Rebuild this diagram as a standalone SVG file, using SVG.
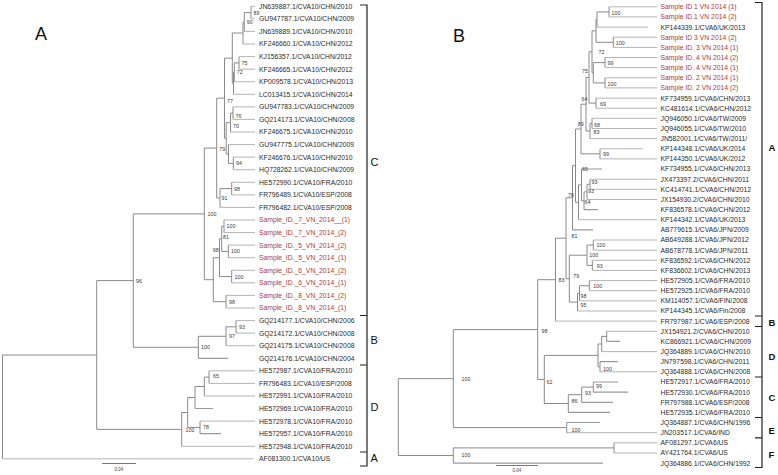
<svg xmlns="http://www.w3.org/2000/svg" width="778" height="475" viewBox="0 0 778 475">
<style>
.bg{fill:#fff}
.br{fill:none;stroke:#8a8a8a;stroke-width:1}
.lf{fill:none;stroke:#b4b4b4;stroke-width:1}
.ld{fill:none;stroke:#999;stroke-width:1.2}
.bk{fill:none;stroke:#222;stroke-width:1.2}
.sb{fill:none;stroke:#555;stroke-width:0.8}
text{font-family:"Liberation Sans",Arial,sans-serif}
.t{font-size:6.8px;fill:#2a2a2a}
.r{font-size:6.8px;fill:#b0393a}
.bs{font-size:5.3px;fill:#3a3a3a}
.cl{font-size:11px;fill:#111}
.cb{font-size:9.5px;font-weight:bold;fill:#111}
.pt{font-size:18px;fill:#111}
.sc{font-size:4.5px;fill:#444}
</style>
<rect class="bg" x="0" y="0" width="778" height="475"/>
<text class="pt" x="35" y="40">A</text>
<text class="pt" x="453" y="42">B</text>

<g id="connectors">
<path class="br" d="M2.5 355V458.8M2.5 355H96.7M96.7 280.6V429.4M96.7 280.6H133.3M96.7 429.4H181.7M133.3 213.9V347.3M133.3 213.9H204.3M133.3 347.3H198.3M204.3 148.1V279.7M204.3 148.1H216.7M204.3 279.7H213.3M216.7 98.2V198M216.7 98.2H224.5M216.7 198H220M224.5 58.2V138.3M224.5 58.2H232.3M224.5 138.3H226.2M232.3 33V83.3M232.3 33H243M232.3 83.3H233.5M243 22V44M243 22H244.3M244.3 12.6V31.4M244.3 12.6H251M251 6.3V18.9M233.5 72.3V94.3M233.5 72.3H234.3M234.3 62.9V81.7M234.3 62.9H239M239 56.6V69.2M226.2 122.6V154M226.2 122.6H230.5M226.2 154H228.5M230.5 113.2V132M230.5 113.2H233M233 106.9V119.4M228.5 144.6V163.4M228.5 163.4H233.3M233.3 157.1V169.7M220 188.6V207.4M220 188.6H231.7M231.7 182.3V194.9M213.3 257.7V301.7M213.3 257.7H219.5M213.3 301.7H226M219.5 238.8V276.6M219.5 238.8H221.7M219.5 276.6H231.7M221.7 226.3V251.4M221.7 226.3H224M221.7 251.4H228.3M224 220V232.6M228.3 245.1V257.7M231.7 270.3V282.8M226 295.4V308M198.3 336.3V358.3M198.3 336.3H226M226 326.8V345.7M226 326.8H236M236 320.6V333.1M181.7 412.5V446.3M181.7 412.5H187.7M187.7 397.5V427.4M187.7 397.5H195M187.7 427.4H200M195 386.5V408.5M195 386.5H204.3M204.3 377.1V396M204.3 377.1H209M209 370.8V383.4M200 421.1V433.7"/>
<path class="lf" d="M251 6.3H255M251 18.9H255M244.3 31.4H255M243 44H255M239 56.6H255M239 69.2H255M234.3 81.7H255M233.5 94.3H255M233 106.9H255M233 119.4H255M230.5 132H255M228.5 144.6H255M233.3 157.1H255M233.3 169.7H255M231.7 182.3H255M231.7 194.9H255M220 207.4H255M224 220H255M224 232.6H255M228.3 245.1H255M228.3 257.7H255M231.7 270.3H255M231.7 282.8H255M226 295.4H255M226 308H255M236 320.6H255M236 333.1H255M226 345.7H255M209 370.8H255M209 383.4H255M204.3 396H255M200 421.1H255M181.7 446.3H255M2.5 458.8H253"/>
<path class="ld" d="M198.3 358.3H228M195 408.5H213M200 433.7H221"/>
<path class="br" d="M398.3 378.6V455.5M398.3 378.6H453.3M398.3 455.5H453.3M453.3 329.6V427.6M453.3 329.6H537.7M453.3 427.6H566.7M453.3 447.9V463.1M453.3 447.9H614M614 442.8V453M566.7 422.5V432.7M537.7 279.7V379.5M537.7 279.7H555.5M537.7 379.5H544.3M544.3 355.4V403.5M544.3 355.4H598M544.3 403.5H568.3M598 344V366.8M598 344H601.7M598 366.8H600M601.7 336.4V351.6M601.7 336.4H606.7M606.7 331.3V341.4M600 361.7V371.8M568.3 394.7V412.4M568.3 394.7H581.7M581.7 387.1V402.3M581.7 387.1H593.3M593.3 382V392.1M555.5 238.2V321.1M555.5 238.2H566M566 197.8V278.7M566 197.8H572.5M566 278.7H569.3M569.3 255.2V302.1M569.3 255.2H587M569.3 302.1H577.5M587 245.1V265.4M587 245.1H593.3M587 265.4H592.3M593.3 240V250.2M592.3 260.3V270.4M577.5 293.3V311M577.5 293.3H579.5M579.5 285.7V300.9M579.5 285.7H589.3M589.3 280.6V290.7M572.5 165.7V229.9M572.5 165.7H575.5M575.5 129V202.3M575.5 129H581M575.5 202.3H578.5M578.5 184.9V219.7M578.5 184.9H581.5M581.5 169V200.7M581.5 200.7H584M584 191.9V209.6M584 191.9H587M587 184.3V199.5M587 184.3H590M590 179.2V189.3M581 104.2V153.8M581 104.2H586M581 153.8H600M600 148.8V158.9M586 77.5V131M586 77.5H589M586 131H590M590 123.4V138.6M590 123.4H592M592 118.3V128.5M589 51.8V103.1M589 51.8H592M589 103.1H596M596 98.1V108.2M592 30.9V72.7M592 30.9H596M592 72.7H593.3M593.3 62.6V82.9M593.3 62.6H605M593.3 82.9H605M605 57.5V67.6M605 77.8V87.9M596 19.5V42.3M596 19.5H597M596 42.3H613.3M597 11.9V27.1M597 11.9H609M609 6.8V16.9M613.3 37.2V47.4"/>
<path class="lf" d="M609 6.8H657M609 16.9H657M597 27.1H648M613.3 37.2H657M613.3 47.4H657M605 57.5H657M605 67.6H657M605 77.8H657M605 87.9H657M596 98.1H657M596 108.2H657M592 118.3H657M592 128.5H657M590 138.6H657M600 148.8H643M600 158.9H657M590 179.2H657M590 189.3H657M587 199.5H657M578.5 219.7H657M593.3 240H657M593.3 250.2H657M592.3 260.3H657M592.3 270.4H657M589.3 280.6H657M589.3 290.7H657M579.5 300.9H657M577.5 311H657M555.5 321.1H657M606.7 331.3H657M601.7 351.6H657M600 371.8H657M566.7 432.7H657M614 442.8H657M614 453H657"/>
<path class="ld" d="M581.5 169H602M584 209.6H598M572.5 229.9H593M606.7 341.4H620M600 361.7H618M593.3 382H618M593.3 392.1H628M581.7 402.3H613M568.3 412.4H610M566.7 422.5H600M453.3 463.1H603"/>
</g>

<g id="clade-brackets">
<path class="bk" d="M360 5H367V466H360M360 315.5H367M360 365H367M360 452H367"/>
<text class="cl" x="370.5" y="165.6">C</text>
<text class="cl" x="370.5" y="343.9">B</text>
<text class="cl" x="370.5" y="410.6">D</text>
<text class="cl" x="370.5" y="461.9">A</text>
<path class="bk" d="M755 2.5H762V467.5H755M755 316H762M755 326.5H762M755 377H762M755 417.5H762M755 437.8H762"/>
<text class="cb" x="768.5" y="151">A</text>
<text class="cb" x="768.5" y="326">B</text>
<text class="cb" x="768.5" y="360.4">D</text>
<text class="cb" x="768.5" y="401">C</text>
<text class="cb" x="768.5" y="434.4">E</text>
<text class="cb" x="768.5" y="457.7">F</text>
</g>

<g id="support-values">
<text class="bs" x="253.5" y="14.5">89</text>
<text class="bs" x="246.8" y="23.9">90</text>
<text class="bs" x="241.5" y="64.8">75</text>
<text class="bs" x="236.8" y="74.2">72</text>
<text class="bs" x="227" y="102.9">77</text>
<text class="bs" x="235.5" y="117.9">76</text>
<text class="bs" x="233" y="127.9">70</text>
<text class="bs" x="219.2" y="150.9">79</text>
<text class="bs" x="236" y="165.3">94</text>
<text class="bs" x="234" y="190.5">98</text>
<text class="bs" x="221.5" y="200.4">91</text>
<text class="bs" x="207.5" y="215.9">100</text>
<text class="bs" x="226.5" y="227.9">100</text>
<text class="bs" x="223" y="239.4">81</text>
<text class="bs" x="212.7" y="251.9">98</text>
<text class="bs" x="231" y="252.9">100</text>
<text class="bs" x="234.5" y="278.9">100</text>
<text class="bs" x="229" y="303.9">98</text>
<text class="bs" x="136" y="282.5">96</text>
<text class="bs" x="239" y="328.7">93</text>
<text class="bs" x="229" y="338.2">97</text>
<text class="bs" x="201" y="349.2">100</text>
<text class="bs" x="213" y="377.9">65</text>
<text class="bs" x="203" y="429.3">78</text>
<text class="bs" x="185.5" y="431.9">100</text>

<text class="bs" x="611.5" y="14.9">100</text>
<text class="bs" x="615.8" y="45.4">100</text>
<text class="bs" x="598.5" y="53.9">72</text>
<text class="bs" x="607.5" y="64.9">99</text>
<text class="bs" x="582" y="72.9">75</text>
<text class="bs" x="607.5" y="85.9">100</text>
<text class="bs" x="581.5" y="101.4">64</text>
<text class="bs" x="600" y="105.9">69</text>
<text class="bs" x="577.7" y="126.2">89</text>
<text class="bs" x="594" y="126.9">68</text>
<text class="bs" x="593.5" y="133.9">83</text>
<text class="bs" x="603" y="156.2">99</text>
<text class="bs" x="582" y="171.4">65</text>
<text class="bs" x="591.5" y="184.4">93</text>
<text class="bs" x="588" y="192.9">93</text>
<text class="bs" x="568" y="196.9">76</text>
<text class="bs" x="584.5" y="204.2">64</text>
<text class="bs" x="571.5" y="237.9">81</text>
<text class="bs" x="596.5" y="246.9">100</text>
<text class="bs" x="589.3" y="257.4">100</text>
<text class="bs" x="596.7" y="267.9">93</text>
<text class="bs" x="573.3" y="277.9">79</text>
<text class="bs" x="558.5" y="281.9">83</text>
<text class="bs" x="593.3" y="287.9">100</text>
<text class="bs" x="580.5" y="297.9">98</text>
<text class="bs" x="580.5" y="307.4">95</text>
<text class="bs" x="541.5" y="333.4">98</text>
<text class="bs" x="603" y="370.9">100</text>
<text class="bs" x="546.5" y="384.4">62</text>
<text class="bs" x="596" y="387.9">99</text>
<text class="bs" x="585" y="394.9">93</text>
<text class="bs" x="571.5" y="402.9">86</text>
<text class="bs" x="571.5" y="431.9">100</text>
<text class="bs" x="461.5" y="380.9">100</text>
<text class="bs" x="461.5" y="456.9">100</text>
</g>

<g id="scale-bars">
<path class="sb" d="M102 463.5H136"/>
<text class="sc" x="119" y="470.5" text-anchor="middle">0.04</text>
<path class="sb" d="M496 465.5H538"/>
<text class="sc" x="517" y="472" text-anchor="middle">0.04</text>
</g>

<g id="a01"><text class="t" x="259" y="8.75">JN639887.1/CVA10/CHN/2010</text></g>
<g id="a02"><text class="t" x="259" y="21.32">GU947787.1/CVA10/CHN/2009</text></g>
<g id="a03"><text class="t" x="259" y="33.89">JN639889.1/CVA10/CHN/2010</text></g>
<g id="a04"><text class="t" x="259" y="46.46">KF246660.1/CVA10/CHN/2012</text></g>
<g id="a05"><text class="t" x="259" y="59.03">KJ156357.1/CVA10/CHN/2012</text></g>
<g id="a06"><text class="t" x="259" y="71.6">KF246665.1/CVA10/CHN/2012</text></g>
<g id="a07"><text class="t" x="259" y="84.17">KP009578.1/CVA10/CHN/2013</text></g>
<g id="a08"><text class="t" x="259" y="96.74">LC013415.1/CVA10/CHN/2014</text></g>
<g id="a09"><text class="t" x="259" y="109.31">GU947783.1/CVA10/CHN/2009</text></g>
<g id="a10"><text class="t" x="259" y="121.88">GQ214173.1/CVA10/CHN/2008</text></g>
<g id="a11"><text class="t" x="259" y="134.45">KF246675.1/CVA10/CHN/2010</text></g>
<g id="a12"><text class="t" x="259" y="147.02">GU947775.1/CVA10/CHN/2009</text></g>
<g id="a13"><text class="t" x="259" y="159.59">KF246676.1/CVA10/CHN/2010</text></g>
<g id="a14"><text class="t" x="259" y="172.16">HQ728262.1/CVA10/CHN/2009</text></g>
<g id="a15"><text class="t" x="259" y="184.73">HE572990.1/CVA10/FRA/2010</text></g>
<g id="a16"><text class="t" x="259" y="197.3">FR796489.1/CVA10/ESP/2008</text></g>
<g id="a17"><text class="t" x="259" y="209.87">FR796482.1/CVA10/ESP/2008</text></g>
<g id="a18"><text class="r" x="259" y="222.44">Sample_ID._7_VN_2014__(1)</text></g>
<g id="a19"><text class="r" x="259" y="235.01">Sample_ID._7_VN_2014_(2)</text></g>
<g id="a20"><text class="r" x="259" y="247.58">Sample_ID._5_VN_2014_(2)</text></g>
<g id="a21"><text class="r" x="259" y="260.15">Sample_ID._5_VN_2014_(1)</text></g>
<g id="a22"><text class="r" x="259" y="272.72">Sample_ID._6_VN_2014_(2)</text></g>
<g id="a23"><text class="r" x="259" y="285.29">Sample_ID._6_VN_2014_(1)</text></g>
<g id="a24"><text class="r" x="259" y="297.86">Sample_ID._8_VN_2014_(2)</text></g>
<g id="a25"><text class="r" x="259" y="310.43">Sample_ID._8_VN_2014_(1)</text></g>
<g id="a26"><text class="t" x="259" y="323">GQ214177.1/CVA10/CHN/2006</text></g>
<g id="a27"><text class="t" x="259" y="335.57">GQ214172.1/CVA10/CHN/2008</text></g>
<g id="a28"><text class="t" x="259" y="348.14">GQ214175.1/CVA10/CHN/2008</text></g>
<g id="a29"><text class="t" x="259" y="360.71">GQ214176.1/CVA10/CHN/2004</text></g>
<g id="a30"><text class="t" x="259" y="373.28">HE572987.1/CVA10/FRA/2010</text></g>
<g id="a31"><text class="t" x="259" y="385.85">FR796483.1/CVA10/ESP/2008</text></g>
<g id="a32"><text class="t" x="259" y="398.42">HE572991.1/CVA10/FRA/2010</text></g>
<g id="a33"><text class="t" x="259" y="410.99">HE572969.1/CVA10/FRA/2010</text></g>
<g id="a34"><text class="t" x="259" y="423.56">HE572978.1/CVA10/FRA/2010</text></g>
<g id="a35"><text class="t" x="259" y="436.13">HE572957.1/CVA10/FRA/2010</text></g>
<g id="a36"><text class="t" x="259" y="448.7">HE572948.1/CVA10/FRA/2010</text></g>
<g id="a37"><text class="t" x="259" y="461.27">AF081300.1/CVA10/US</text></g>

<g id="b01"><text class="r" x="660.5" y="9.25">Sample ID 1 VN 2014 (1)</text></g>
<g id="b02"><text class="r" x="660.5" y="19.39">Sample ID.1 VN 2014 (2)</text></g>
<g id="b03"><text class="t" x="660.5" y="29.53">KP144339.1/CVA6/UK/2013</text></g>
<g id="b04"><text class="r" x="660.5" y="39.67">Sample ID 3 VN 2014 (2)</text></g>
<g id="b05"><text class="r" x="660.5" y="49.81">Sample ID. 3 VN 2014 (1)</text></g>
<g id="b06"><text class="r" x="660.5" y="59.95">Sample ID. 4 VN 2014 (2)</text></g>
<g id="b07"><text class="r" x="660.5" y="70.09">Sample ID. 4 VN 2014 (1)</text></g>
<g id="b08"><text class="r" x="660.5" y="80.23">Sample ID. 2 VN 2014 (1)</text></g>
<g id="b09"><text class="r" x="660.5" y="90.37">Sample ID. 2 VN 2014 (2)</text></g>
<g id="b10"><text class="t" x="660.5" y="100.51">KF734959.1/CVA6/CHN/2013</text></g>
<g id="b11"><text class="t" x="660.5" y="110.65">KC481614.1/CVA6/CHN/2012</text></g>
<g id="b12"><text class="t" x="660.5" y="120.79">JQ946050.1/CVA6/TW/2009</text></g>
<g id="b13"><text class="t" x="660.5" y="130.93">JQ946055.1/CVA6/TW/2010</text></g>
<g id="b14"><text class="t" x="660.5" y="141.07">JN582001.1/CVA6/TW/2011/</text></g>
<g id="b15"><text class="t" x="660.5" y="151.21">KP144348.1/CVA6/UK/2014</text></g>
<g id="b16"><text class="t" x="660.5" y="161.35">KP144350.1/CVA6/UK/2012</text></g>
<g id="b17"><text class="t" x="660.5" y="171.49">KF734955.1/CVA6/CHN/2013</text></g>
<g id="b18"><text class="t" x="660.5" y="181.63">JX473397.2/CVA6/CHN/2011</text></g>
<g id="b19"><text class="t" x="660.5" y="191.77">KC414741.1/CVA6/CHN/2012</text></g>
<g id="b20"><text class="t" x="660.5" y="201.91">JX154930.2/CVA6/CHN/2010</text></g>
<g id="b21"><text class="t" x="660.5" y="212.05">KF836578.1/CVA6/CHN/2012</text></g>
<g id="b22"><text class="t" x="660.5" y="222.19">KP144342.1/CVA6/UK/2013</text></g>
<g id="b23"><text class="t" x="660.5" y="232.33">AB779615.1/CVA6/JPN/2009</text></g>
<g id="b24"><text class="t" x="660.5" y="242.47">AB649288.1/CVA6/JPN/2012</text></g>
<g id="b25"><text class="t" x="660.5" y="252.61">AB678778.1/CVA6/JPN/2011</text></g>
<g id="b26"><text class="t" x="660.5" y="262.75">KF836592.1/CVA6/CHN/2012</text></g>
<g id="b27"><text class="t" x="660.5" y="272.89">KF836602.1/CVA6/CHN/2013</text></g>
<g id="b28"><text class="t" x="660.5" y="283.03">HE572905.1/CVA6/FRA/2010</text></g>
<g id="b29"><text class="t" x="660.5" y="293.17">HE572925.1/CVA6/FRA/2010</text></g>
<g id="b30"><text class="t" x="660.5" y="303.31">KM114057.1/CVA6/FIN/2008</text></g>
<g id="b31"><text class="t" x="660.5" y="313.45">KP144345.1/CVA6/Fin/2008</text></g>
<g id="b32"><text class="t" x="660.5" y="323.59">FR797987.1/CVA6/ESP/2008</text></g>
<g id="b33"><text class="t" x="660.5" y="333.73">JX154921.2/CVA6/CHN/2010</text></g>
<g id="b34"><text class="t" x="660.5" y="343.87">KC866921.1/CVA6/CHN/2009</text></g>
<g id="b35"><text class="t" x="660.5" y="354.01">JQ364889.1/CVA6/CHN/2010</text></g>
<g id="b36"><text class="t" x="660.5" y="364.15">JN797598.1/CVA6/CHN/2011</text></g>
<g id="b37"><text class="t" x="660.5" y="374.29">JQ364888.1/CVA6/CHN/2008</text></g>
<g id="b38"><text class="t" x="660.5" y="384.43">HE572917.1/CVA6/FRA/2010</text></g>
<g id="b39"><text class="t" x="660.5" y="394.57">HE572930.1/CVA6/FRA/2010</text></g>
<g id="b40"><text class="t" x="660.5" y="404.71">FR797988.1/CVA6/ESP/2008</text></g>
<g id="b41"><text class="t" x="660.5" y="414.85">HE572935.1/CVA6/FRA/2010</text></g>
<g id="b42"><text class="t" x="660.5" y="424.99">JQ364887.1/CVA6/CHN/1996</text></g>
<g id="b43"><text class="t" x="660.5" y="435.13">JN203517.1/CVA6/IND</text></g>
<g id="b44"><text class="t" x="660.5" y="445.27">AF081297.1/CVA6/US</text></g>
<g id="b45"><text class="t" x="660.5" y="455.41">AY421764.1/CVA6/US</text></g>
<g id="b46"><text class="t" x="660.5" y="465.55">JQ364886.1/CVA6/CHN/1992</text></g>
</svg>
